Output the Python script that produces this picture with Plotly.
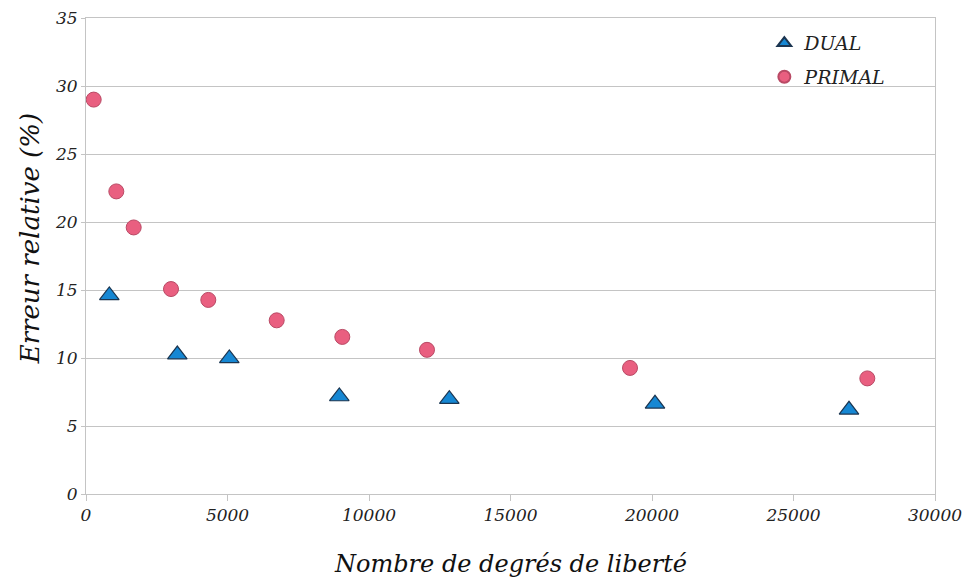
import plotly.graph_objects as go

# Degrees of freedom vs relative error for the two formulations
dual_dof = [824, 3227, 5064, 8951, 12838, 20106, 26961]
dual_err = [14.6, 10.25, 9.97, 7.17, 6.97, 6.63, 6.19]

primal_dof = [272, 1071, 1685, 3004, 4322, 6738, 9057, 12049, 19223, 27608]
primal_err = [29.0, 22.25, 19.6, 15.07, 14.27, 12.77, 11.55, 10.6, 9.27, 8.5]

x_ticks = [0, 5000, 10000, 15000, 20000, 25000, 30000]
y_ticks = [0, 5, 10, 15, 20, 25, 30, 35]

serif = "DejaVu Serif"
grid = "#c4c4c4"

fig = go.Figure()
fig.add_trace(go.Scatter(
    x=dual_dof, y=dual_err, mode="markers", name="<i>DUAL</i>",
    legendgroup="dual",
    marker=dict(symbol="triangle-up", size=17, color="#1687d3",
                line=dict(color="#1b3550", width=1.2)),
))
fig.add_trace(go.Scatter(
    x=primal_dof, y=primal_err, mode="markers", name="<i>PRIMAL</i>",
    legendgroup="primal",
    marker=dict(symbol="circle", size=15, color="#e95f80",
                line=dict(color="#b94a65", width=1)),
))

fig.update_layout(
    width=969, height=588,
    margin=dict(l=86, r=34, t=18, b=94),
    paper_bgcolor="white", plot_bgcolor="white",
    font=dict(family=serif, color="#222222"),
    legend=dict(x=0.799, y=0.987, xanchor="left", yanchor="top",
                bgcolor="rgba(0,0,0,0)", font=dict(size=19, family=serif),
                itemsizing="constant", tracegroupgap=6),
    showlegend=True,
)
fig.update_xaxes(
    range=[0, 30000], tickvals=x_ticks, automargin=False,
    ticktext=[f"<i>{v}</i>" for v in x_ticks],
    tickfont=dict(size=17, family=serif, color="#222222"),
    showgrid=False, zeroline=False,
    showline=True, linecolor=grid, linewidth=1, mirror=True,
    ticks="outside", ticklen=6, tickcolor=grid,
)
fig.update_yaxes(
    range=[0, 35], tickvals=y_ticks, automargin=False,
    ticktext=[f"<i>{v}</i>" for v in y_ticks],
    tickfont=dict(size=17, family=serif, color="#222222"),
    showgrid=True, gridcolor=grid, gridwidth=1, zeroline=False,
    showline=True, linecolor=grid, linewidth=1, mirror=True,
    ticks="outside", ticklen=4, tickcolor=grid,
)

fig.add_annotation(
    text="<i>Nombre de degrés de liberté</i>", xref="paper", yref="paper",
    x=0.5, y=-0.148, xanchor="center", yanchor="middle", showarrow=False,
    font=dict(size=24, family=serif, color="#111111"),
)
fig.add_annotation(
    text="<i>Erreur relative (%)</i>", xref="paper", yref="paper",
    x=-0.066, y=0.537, xanchor="center", yanchor="middle", showarrow=False,
    textangle=-90, font=dict(size=26, family=serif, color="#111111"),
)

fig.write_html("out.html")
